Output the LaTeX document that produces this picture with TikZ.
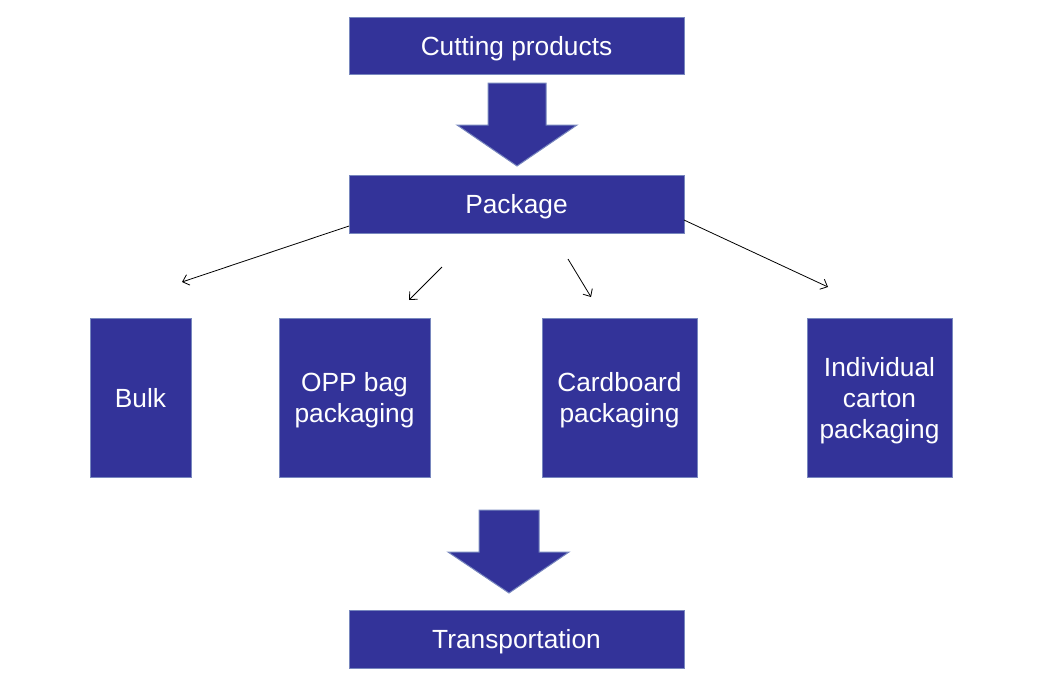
\documentclass[tikz,border=0pt]{standalone}
\usepackage{fontspec}
\setmainfont{Liberation Sans}
\usetikzlibrary{arrows.meta}
\definecolor{boxblue}{RGB}{51,51,153}
\definecolor{boxedge}{RGB}{120,135,190}
\begin{document}
\begin{tikzpicture}[x=1pt,y=-1pt,
  stepbox/.style={draw=boxedge,line width=1pt,fill=boxblue,text=white,
    font=\fontsize{26.3}{31}\selectfont,align=center,inner sep=0pt,
    text depth=0pt,minimum width=#1},
  blockarrow/.style={draw=boxedge,line width=1pt,fill=boxblue},
  thin/.style={draw=black,line width=0.8pt,-{Straight Barb[length=6pt,width=11pt]}}]
\useasboundingbox (0,0) rectangle (1051,678);
% top boxes
\node[stepbox=335pt,minimum height=57pt] (cut) at (516.5,45.5) {Cutting products};
\node[stepbox=335pt,minimum height=58pt] (pkg) at (516.5,204) {Package};
\node[stepbox=335pt,minimum height=58pt] (trans) at (516.5,639) {Transportation};
% middle boxes
\node[stepbox=101pt,minimum height=159pt] (bulk) at (140.5,397.5) {Bulk};
\node[stepbox=151pt,minimum height=159pt] (opp) at (354.5,397.5) {OPP bag\\packaging};
\node[stepbox=155pt,minimum height=159pt] (card) at (619.5,397.5) {Cardboard\\packaging};
\node[stepbox=145pt,minimum height=159pt] (ind) at (879.5,397.5) {Individual\\carton\\packaging};
% block arrows
\draw[blockarrow] (488,83) -- (546,83) -- (546,125) -- (577,125) -- (517,166)
  -- (457,125) -- (488,125) -- cycle;
\draw[blockarrow] (479,510) -- (539,510) -- (539,552) -- (569,552) -- (509,593)
  -- (448,552) -- (479,552) -- cycle;
% thin arrows
\coordinate (a1s) at (349,226);
\coordinate (a1e) at (182,282);
\coordinate (a2s) at (442,267);
\coordinate (a2e) at (409,300);
\coordinate (a3s) at (568,259);
\coordinate (a3e) at (591,297);
\coordinate (a4s) at (684,220);
\coordinate (a4e) at (828,287);
\draw[thin] (a1s) -- (a1e);
\draw[thin] (a2s) -- (a2e);
\draw[thin] (a3s) -- (a3e);
\draw[thin] (a4s) -- (a4e);
\end{tikzpicture}
\end{document}
